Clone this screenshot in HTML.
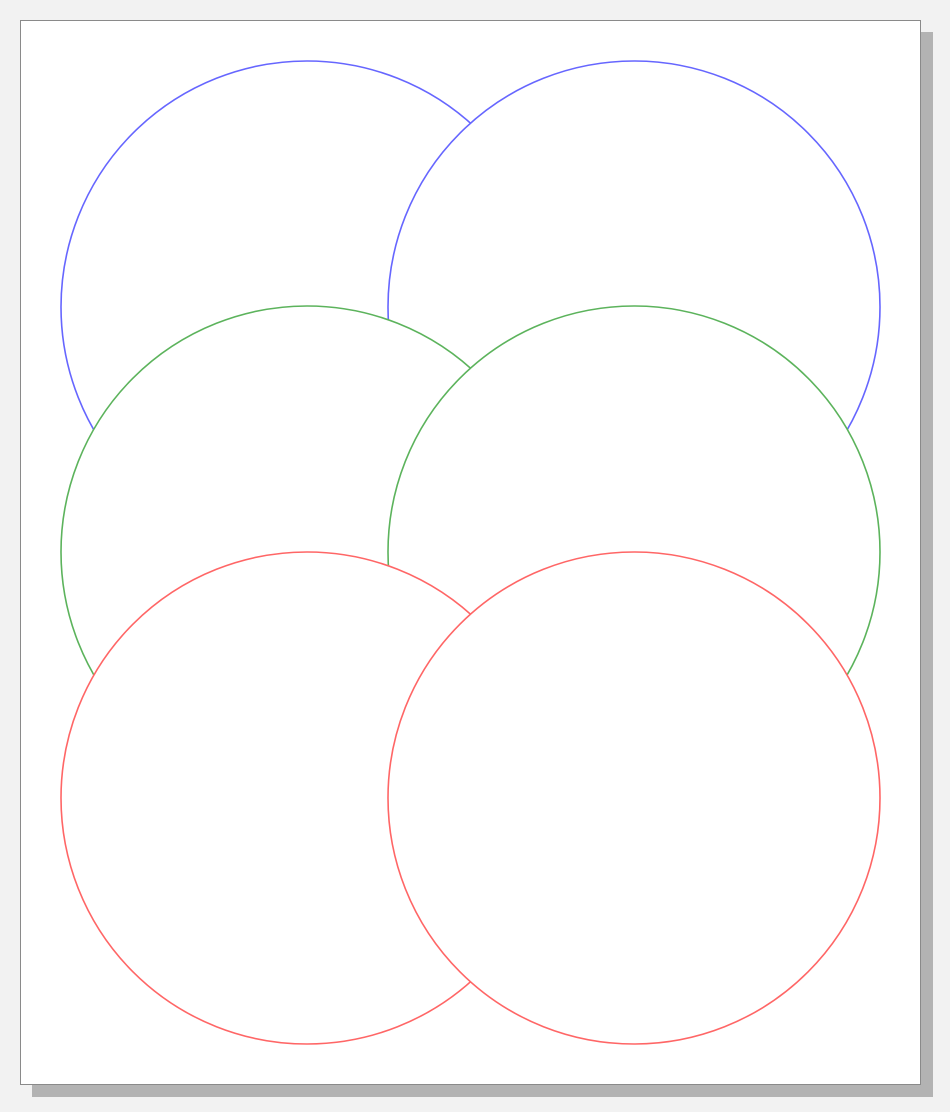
<!DOCTYPE html>
<html>
<head>
<meta charset="utf-8">
<style>
  html,body{margin:0;padding:0;background:#f2f2f2;width:950px;height:1112px;overflow:hidden;font-family:"Liberation Sans",sans-serif;}
  svg{display:block;}
</style>
</head>
<body>
<svg id="chart" width="950" height="1112" viewBox="0 0 950 1112">
  <rect x="32" y="32" width="901" height="1065" fill="#b3b3b3"></rect>
  <rect x="20.5" y="20.5" width="900" height="1064" fill="#ffffff" stroke="#8a8a8a" stroke-width="1"></rect>
  <g id="circles"></g>
</svg>
<script>
const colCenters = [307, 634];
const rowCenters = [307, 552, 798];
const rowColors = ["#6666ff", "#5cb35c", "#ff6666"];
const rowNames = ["blue", "green", "red"];
const radius = 246;

const g = document.getElementById('circles');
const NS = "http://www.w3.org/2000/svg";
rowCenters.forEach((cy, r) => {
  colCenters.forEach((cx, c) => {
    const el = document.createElementNS(NS, 'circle');
    el.setAttribute('cx', cx);
    el.setAttribute('cy', cy);
    el.setAttribute('r', radius);
    el.setAttribute('fill', '#ffffff');
    el.setAttribute('stroke', rowColors[r]);
    el.setAttribute('stroke-width', '1.6');
    
    
    g.appendChild(el);
  });
});
</script>
</body>
</html>
